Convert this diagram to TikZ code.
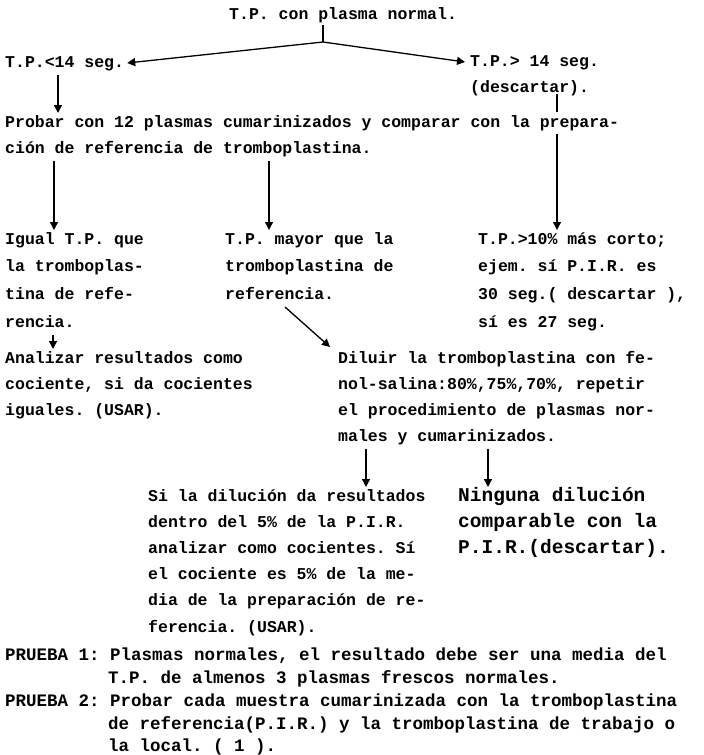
\documentclass[tikz,border=0pt]{standalone}
\usepackage{fontspec}
\setmonofont{Liberation Mono}
\usetikzlibrary{arrows.meta,calc}
\newcommand\tblock[1]{\vtop{\halign{##\hfil\cr#1\crcr}}}
\begin{document}
\begin{tikzpicture}[x=1pt,y=-1pt,
  tw/.style={font=\ttfamily\bfseries\fontsize{16.5}{#1}\selectfont, inner sep=0pt, anchor=base west},
  tw/.default=26,
  twb/.style={font=\ttfamily\bfseries\fontsize{17.5}{#1}\selectfont, inner sep=0pt, anchor=base west},
  twb/.default=23,
  ln/.style={line width=1.3pt},
  arr/.style={line width=1.3pt, -{Triangle[length=8pt,width=8pt]}}]
\useasboundingbox (0,0) rectangle (704,755);
\fill[white] (0,0) rectangle (704,755);
% text blocks
\node[tw] (title) at (229,19) {T.P. con plasma normal.};
\node[tw] (lt) at (5,67) {T.P.<14 seg.};
\node[tw] (gt) at (470,66) {\tblock{T.P.> 14 seg.\cr(descartar).}};
\node[tw] (probar) at (5,127) {\tblock{Probar con 12 plasmas cumarinizados y comparar con la prepara-\cr ción de referencia de tromboplastina.}};
\node[tw=27.7] (igual) at (5,244) {\tblock{Igual T.P. que\cr la tromboplas-\cr tina de refe-\cr rencia.}};
\node[tw=27.7] (mayor) at (225,244) {\tblock{T.P. mayor que la\cr tromboplastina de\cr referencia.}};
\node[tw=27.7] (corto) at (478,244) {\tblock{T.P.>10\% más corto;\cr ejem. sí P.I.R. es\cr 30 seg.( descartar ),\cr sí es 27 seg.}};
\node[tw] (anal) at (5,363) {\tblock{Analizar resultados como\cr cociente, si da cocientes\cr iguales. (USAR).}};
\node[tw] (diluir) at (338,363) {\tblock{Diluir la tromboplastina con fe-\cr nol-salina:80\%,75\%,70\%, repetir\cr el procedimiento de plasmas nor-\cr males y cumarinizados.}};
\node[tw=26.2] (sila) at (148,501) {\tblock{Si la dilución da resultados\cr dentro del 5\% de la P.I.R.\cr analizar como cocientes. Sí\cr el cociente es 5\% de la me-\cr dia de la preparación de re-\cr ferencia. (USAR).}};
\node[tw=26.2, font=\ttfamily\bfseries\fontsize{19.5}{26.2}\selectfont] (ning) at (458,501) {\tblock{Ninguna dilución\cr comparable con la\cr P.I.R.(descartar).}};
\node[twb] (p1) at (5,660) {PRUEBA 1: Plasmas normales, el resultado debe ser una media del};
\node[twb] (p1b) at (108,683) {T.P. de almenos 3 plasmas frescos normales.};
\node[twb] (p2) at (5,706) {PRUEBA 2: Probar cada muestra cumarinizada con la tromboplastina};
\node[twb=22.5] (p2b) at (108,729) {\tblock{de referencia(P.I.R.) y la tromboplastina de trabajo o\cr la local. ( 1 ).}};
% connectors
\coordinate (J) at ($(title.base west)+(94,23)$);
\draw[ln] ($(title.base west)+(94,6)$) -- (J);
\draw[arr] (J) -- ($(lt.base east)+(3,-4)$);
\draw[arr] (J) -- ($(gt.base west)+(-5,-4)$);
\draw[arr] ($(lt.base west)+(53,8)$) -- ($(probar.base west)+(53,-14)$);
\draw[ln] ($(gt.base west)+(87,28)$) -- ($(probar.base west)+(552,-15)$);
\draw[arr] ($(probar.base west)+(552,7)$) -- ($(corto.base west)+(79,-14)$);
\draw[arr] ($(probar.base west)+(49,34)$) -- ($(igual.base west)+(49,-14)$);
\draw[arr] ($(mayor.base west)+(44,-83)$) -- ($(mayor.base west)+(44,-14)$);
\draw[arr] ($(igual.base west)+(48,91)$) -- ($(anal.base west)+(48,-14)$);
\draw[arr] ($(mayor.base west)+(60,63)$) -- ($(diluir.base west)+(-8,-16)$);
\draw[arr] ($(diluir.base west)+(28,86)$) -- ($(sila.base west)+(218,-14)$);
\draw[arr] ($(diluir.base west)+(150,86)$) -- ($(ning.base west)+(30,-14)$);
\end{tikzpicture}
\end{document}
